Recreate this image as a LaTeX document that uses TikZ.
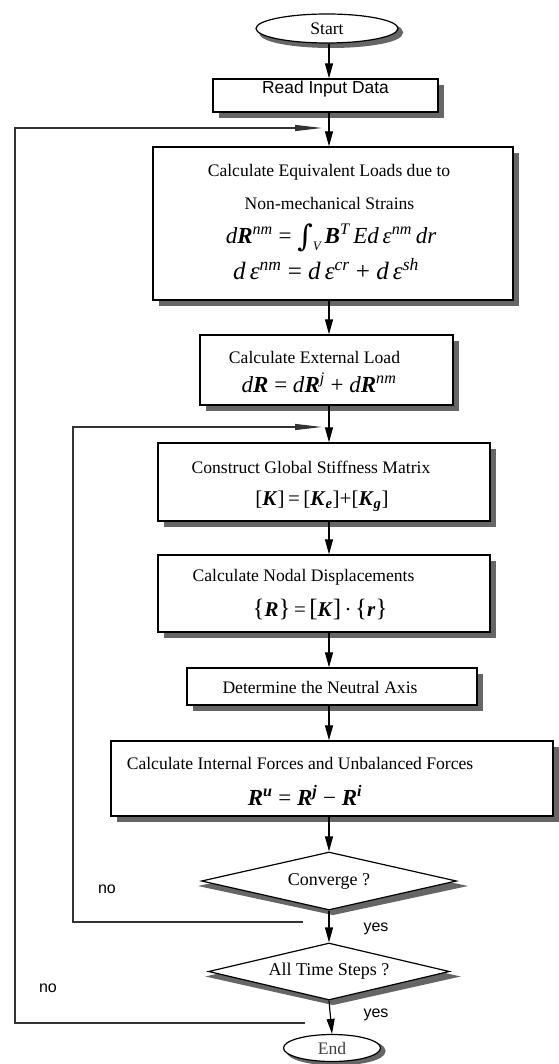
\documentclass[tikz,border=0pt]{standalone}
\usepackage{fontspec}
\setmainfont{Liberation Serif}
\newfontfamily\sansf{Liberation Sans}
\newfontfamily\djs{DejaVu Serif}
\usetikzlibrary{shapes.geometric,arrows.meta,fit}
\definecolor{shadowgray}{HTML}{666666}
\newcommand\bfi[1]{\textbf{\textit{#1}}}
\newcommand\spi[1]{\textsuperscript{\itshape #1}}
\newcommand\spb[1]{\textsuperscript{\bfseries\itshape #1}}
\newcommand\sbb[1]{\textsubscript{\bfseries\itshape #1}}
\begin{document}
\begin{tikzpicture}[x=1pt,y=-1pt,
  shadowfill/.style={fill=shadowgray,draw=shadowgray,line width=4pt,line join=miter},
  shadowline/.style={draw=shadowgray,line width=6pt,line join=miter,line cap=butt},
  box/.style={draw,line width=1.3pt,fill=white,inner sep=0pt},
  ell/.style={ellipse,draw,line width=1.2pt,fill=white,inner sep=0pt,font=\fontsize{17.6}{20}\selectfont},
  dia/.style={diamond,draw,line width=1.2pt,fill=white,inner sep=0pt,aspect=4,font=\fontsize{18}{21}\selectfont},
  txt/.style={inner sep=0pt,font=\fontsize{17.6}{21}\selectfont},
  frm/.style={inner sep=0pt,font=\fontsize{23}{27}\selectfont},
  lab/.style={inner sep=0pt,font=\sansf\fontsize{16}{19}\selectfont},
  arr/.style={line width=1.2pt,-{Triangle[length=15pt,width=8pt]}},
  loopline/.style={line width=1.1pt,black!80,-{Triangle[length=27pt,width=6pt]}}]
\useasboundingbox (0,0) rectangle (558,1064);
\coordinate (ax) at (329,0);
% shadows (drawn first, below the shapes)
\fill[shadowfill] (331,32.5) ellipse [x radius=70, y radius=13.5];
\draw[shadowline] (219,115) -- (441,115) -- (441,85);
\draw[shadowline] (159,303) -- (516,303) -- (516,153);
\draw[shadowline] (206,408) -- (456,408) -- (456,341);
\draw[shadowline] (164,524) -- (493,524) -- (493,449);
\draw[shadowline] (164,635) -- (493,635) -- (493,561);
\draw[shadowline] (193,708) -- (480,708) -- (480,674);
\draw[shadowline] (117,819) -- (556,819) -- (556,747);
\fill[shadowfill] (207.5,886) -- (333,859) -- (458.5,886) -- (333,913) -- cycle;
\fill[shadowfill] (214.5,976.5) -- (333,950) -- (451.5,976.5) -- (333,1003) -- cycle;
\fill[shadowfill] (336,1051) ellipse [x radius=47.5, y radius=12.5];
% nodes
\node[ell,minimum width=142pt,minimum height=29pt] (start) at (327,28.5) {Start};
\node[box,fit={(213,79)(438,112)},font=\sansf\fontsize{17.4}{20}\selectfont] (read) {Read Input Data};
\node[box,fit={(153,147)(513,300)}] (equiv) {};
\node[txt] (equivt1) at (329,172) {Calculate Equivalent Loads due to};
\node[txt] (equivt2) at (329.5,203) {Non-mechanical Strains};
\node[frm] (equivf1) at (331,238) {{\itshape d}\bfi{R}\spi{nm} = \raisebox{-3pt}{\djs\fontsize{30}{30}\selectfont ∫}\raisebox{-7pt}{\fontsize{13}{13}\selectfont\itshape V}\,\bfi{B}\spi{T}\,{\itshape Ed\,ε}\spi{nm}\,{\itshape dr}};
\node[frm,font=\fontsize{25}{29}\selectfont] (equivf2) at (326,269) {{\itshape d\,ε}\spi{nm} = {\itshape d\,ε}\spi{cr} + {\itshape d\,ε}\spi{sh}};
\node[box,fit={(200,335)(453,405)}] (ext) {};
\node[txt] (extt) at (314.5,357) {Calculate External Load};
\node[frm] (extf) at (319,383) {{\itshape d}\bfi{R} = {\itshape d}\bfi{R}\spi{j} + {\itshape d}\bfi{R}\spi{nm}};
\node[box,fit={(158,443)(490,521)}] (cons) {};
\node[txt] (const) at (311,467) {Construct Global Stiffness Matrix};
\node[frm,font=\fontsize{21}{25}\selectfont] (consf) at (322,501) {[\bfi{K}]\,=\,[\bfi{K}\sbb{e}]+[\bfi{K}\sbb{g}]};
\node[box,fit={(158,555)(490,632)}] (nodal) {};
\node[txt] (nodalt) at (303.5,577) {Calculate Nodal Displacements};
\node[frm,font=\fontsize{21}{25}\selectfont] (nodalf) at (320,609) {{\fontsize{25}{25}\selectfont\{}\bfi{R}{\fontsize{25}{25}\selectfont\}}\,=\,{\fontsize{25}{25}\selectfont[}\bfi{K}{\fontsize{25}{25}\selectfont]}\,·\,{\fontsize{25}{25}\selectfont\{}\bfi{r}{\fontsize{25}{25}\selectfont\}}};
\node[box,fit={(187,668)(477,705)}] (neut) {};
\node[txt] (neutt) at (320,687) {Determine the Neutral Axis};
\node[box,fit={(111,741)(553,816)}] (intf) {};
\node[txt] (intft) at (300,763) {Calculate Internal Forces and Unbalanced Forces};
\node[frm] (intff) at (305,795) {\bfi{R}\spb{u} = \bfi{R}\spb{j} − \bfi{R}\spb{i}};
\node[dia,minimum width=255pt,minimum height=58pt] (conv) at (329,881) {Converge ?};
\node[dia,minimum width=241pt,minimum height=57pt] (allt) at (329,971.5) {All Time Steps ?};
\node[ell,minimum width=97pt,minimum height=27pt,text=black!75] (end) at (332,1048) {End};
% labels
\node[lab] (no1) at (107,889) {no};
\node[lab] (yes1) at (376,929) {yes};
\node[lab] (no2) at (48,988) {no};
\node[lab] (yes2) at (376,1015) {yes};
% connectors
\draw[arr] (start.south -| ax) -- (read.north -| ax);
\draw[arr] (read.south -| ax) -- (equiv.north -| ax);
\draw[arr] (equiv.south -| ax) -- (ext.north -| ax);
\draw[arr] (ext.south -| ax) -- (cons.north -| ax);
\draw[arr] (cons.south -| ax) -- (nodal.north -| ax);
\draw[arr] (nodal.south -| ax) -- (neut.north -| ax);
\draw[arr] (neut.south -| ax) -- (intf.north -| ax);
\draw[arr] (intf.south -| ax) -- (conv.north);
\draw[arr] (conv.south) -- (allt.north);
\draw[arr] (allt.south) -- (end.north);
% loops
\coordinate (l1s) at (303,922);
\coordinate (l1e) at (322,427);
\draw[loopline] (l1s) -- (73,922) |- (l1e);
\coordinate (l2s) at (305,1023);
\coordinate (l2e) at (322,128);
\draw[loopline] (l2s) -- (15,1023) |- (l2e);
\end{tikzpicture}
\end{document}
